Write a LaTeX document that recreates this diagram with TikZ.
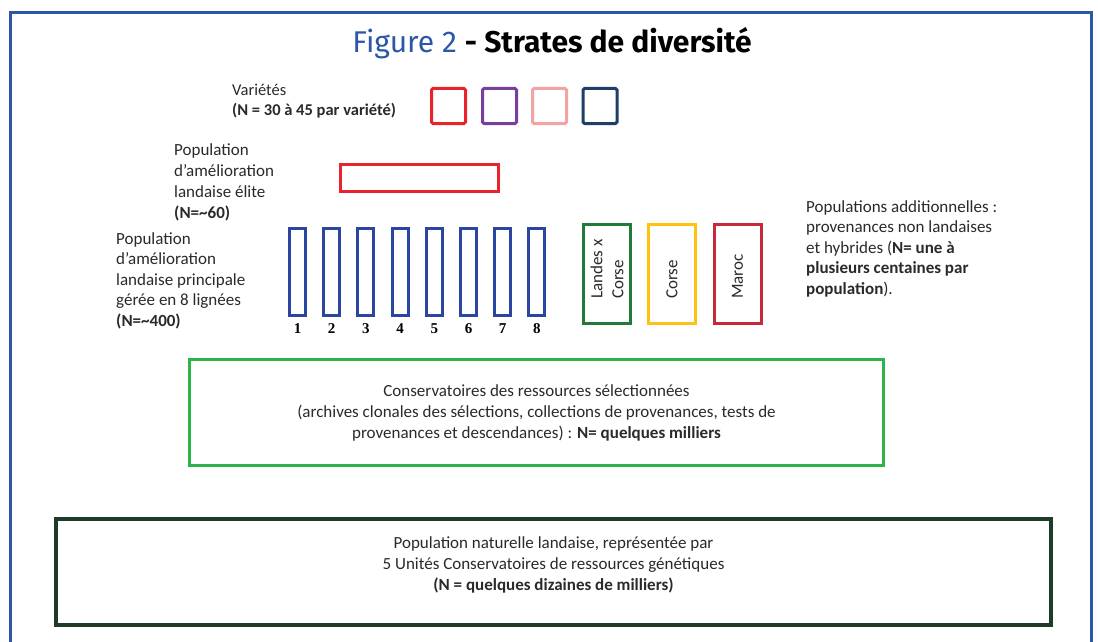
\documentclass[tikz,border=0pt]{standalone}
\usepackage{fontspec}
\setmainfont{Carlito}
\newfontfamily\titrefont{Fira Sans}
\newfontfamily\chiffrefont{Liberation Serif}
\usetikzlibrary{positioning}

\definecolor{cadre}{HTML}{2C56A8}
\definecolor{texte}{HTML}{2A2A2A}
\definecolor{rouge}{HTML}{E8232B}
\definecolor{violet}{HTML}{7A3F9C}
\definecolor{rose}{HTML}{F3A3A2}
\definecolor{marine}{HTML}{1F3E68}
\definecolor{bleuligne}{HTML}{2A45A2}
\definecolor{vertlc}{HTML}{217A3A}
\definecolor{jaune}{HTML}{FFC20E}
\definecolor{bordeaux}{HTML}{C42A3A}
\definecolor{vertcons}{HTML}{2EB34B}
\definecolor{vertfonce}{HTML}{1D3B27}

\begin{document}
\begin{tikzpicture}[x=1pt,y=-1pt,
   every node/.style={text=texte,inner sep=0pt},
   txt/.style={font=\fontsize{17}{21}\selectfont,align=left},
   boite/.style={draw,line width=3pt},
   carre/.style={boite,rounded corners=1.5pt,minimum width=34pt,minimum height=35pt},
   ligne/.style={boite,draw=bleuligne,minimum width=16pt,minimum height=87pt},
   pop/.style={boite,minimum width=47pt,minimum height=99pt},
   chiffre/.style={font=\chiffrefont\bfseries\fontsize{15}{15}\selectfont,text=black},
   rot/.style={font=\fontsize{17}{21}\selectfont,align=left,rotate=90,anchor=west}]
   \useasboundingbox[fill=white] (0,0) rectangle (1098,642);
   \draw[cadre,line width=3pt] (10,642) |- (1091,12.5) -- (1091,642);

   \node[anchor=base,font=\titrefont\fontsize{30}{30}\selectfont] (titre) at (552,53)
      {\textcolor{cadre}{Figure 2} \textcolor{black}{\bfseries - Strates de diversité}};

   % varietes
   \node[txt,anchor=north west,font=\fontsize{16.5}{20}\selectfont] (tvar) at (232,84)
      {Variétés\\\textbf{(N = 30 à 45 par variété)}};
   \node[carre,draw=rouge] (v1) at (448.5,106) {};
   \node[carre,draw=violet] (v2) at (499.5,106) {};
   \node[carre,draw=rose] (v3) at (549.5,106) {};
   \node[carre,draw=marine] (v4) at (600,106) {};

   % elite
   \node[txt,anchor=north west] (telite) at (174,143)
      {Population\\d’amélioration\\landaise élite\\\textbf{(N=\textasciitilde60)}};
   \node[boite,draw=rouge,minimum width=158pt,minimum height=27pt] (elite) at (419.5,178) {};

   % 8 lignees
   \node[txt,anchor=north west,font=\fontsize{17}{20.5}\selectfont] (tprinc) at (116,232)
      {Population\\d’amélioration\\landaise principale\\gérée en 8 lignées\\\textbf{(N=\textasciitilde400)}};
   \foreach \i in {1,...,8}{
      \node[ligne] (l\i) at ({297.5+34.2*(\i-1)},272) {};
      \node[chiffre,below=6pt of l\i] (n\i) {\i};
   }

   % populations additionnelles
   \node[pop,draw=vertlc] (lc) at (607,274) {};
   \node[pop,draw=jaune] (co) at (672,274) {};
   \node[pop,draw=bordeaux] (ma) at (737.5,274) {};
   \node[rot] (tlc) at (607,299) {Landes x\\Corse};
   \node[rot] (tco) at (672,299) {Corse};
   \node[rot] (tma) at (737.5,299) {Maroc};
   \node[txt,anchor=north west,font=\fontsize{17}{20.5}\selectfont] (tadd) at (806,200)
      {Populations additionnelles :\\provenances non landaises\\et hybrides (\textbf{N= une à}\\\textbf{plusieurs centaines par}\\\textbf{population}).};

   % conservatoires
   \node[boite,draw=vertcons,minimum width=694pt,minimum height=106pt,txt,align=center] (cons) at (536.5,412.5)
      {Conservatoires des ressources sélectionnées\\(archives clonales des sélections, collections de provenances, tests de\\provenances et descendances) : \textbf{N= quelques milliers}};

   % population naturelle
   \node[boite,draw=vertfonce,line width=4pt,minimum width=995pt,minimum height=106pt] (nat) at (553.5,572) {};
   \node[txt,align=center] (tnat) at (553.5,565)
      {Population naturelle landaise, représentée par\\5 Unités Conservatoires de ressources génétiques\\\textbf{(N = quelques dizaines de milliers)}};
\end{tikzpicture}
\end{document}
